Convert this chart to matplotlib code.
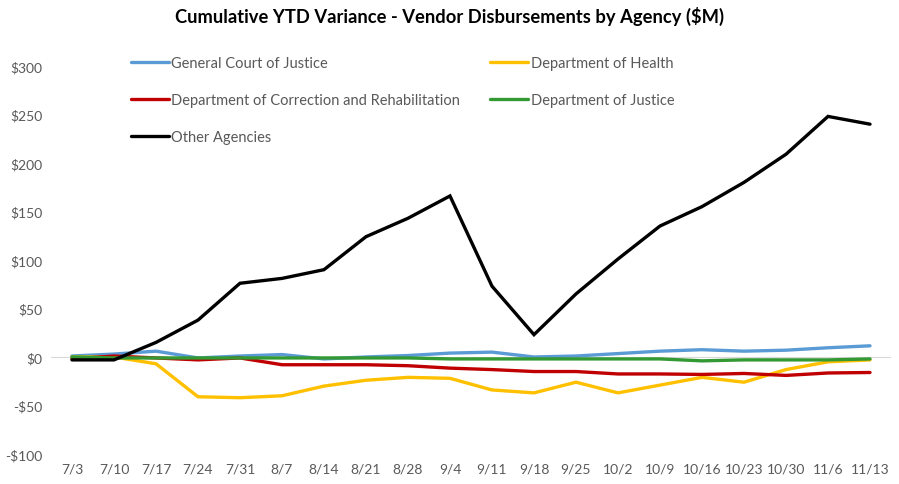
import matplotlib.pyplot as plt
import numpy as np

# week-ending dates (category axis)
weeks = ['7/3', '7/10', '7/17', '7/24', '7/31', '8/7', '8/14', '8/21', '8/28', '9/4',
         '9/11', '9/18', '9/25', '10/2', '10/9', '10/16', '10/23', '10/30', '11/6', '11/13']

# cumulative YTD variance, $M
general_court = [1, 3, 6, -1, 1, 2.5, -2, 0, 1.5, 4, 5, 0, 1, 3.5, 6, 7.5, 6, 7, 9.5, 11.5]
health = [0, 0, -7, -41, -42, -40, -30, -24, -21, -22, -34, -37, -26, -37, -29, -21, -26, -13, -5, -3]
correction = [-2, 1, -1, -3, -1, -8, -8, -8, -9, -11.5, -13, -15, -15, -17.5, -17.5, -18, -17, -19, -16.5, -16]
justice = [0, -1, -1, -1, -1, -1, -1, -1, -1, -2, -2, -2, -2, -2, -2, -4, -3, -3, -3, -2]
other = [-3, -3, 15, 38, 76, 81, 90, 124, 143, 166, 73, 23, 65, 101, 135, 155, 180, 209, 248, 240]

series = [
    ('General Court of Justice', general_court, '#5B9BD5'),
    ('Department of Health', health, '#FFC000'),
    ('Department of Correction and Rehabilitation', correction, '#C00000'),
    ('Department of Justice', justice, '#339933'),
    ('Other Agencies', other, '#000000'),
]

plt.rcParams['font.family'] = ['Lato', 'DejaVu Sans']

fig = plt.figure(figsize=(8.99, 4.85), dpi=100)
ax = fig.add_axes([0.0567, 0.0619, 0.9344, 0.80])

x = np.arange(len(weeks))
ax.axhline(0, color='#D9D9D9', lw=0.8, zorder=1)
lines = {}
for name, vals, col in series:
    ln, = ax.plot(x, vals, color=col, lw=2.4, label=name, zorder=2,
                  solid_joinstyle='miter', solid_capstyle='round')
    lines[name] = ln

ax.set_xlim(-0.5, len(weeks) - 0.5)
ax.set_ylim(-100, 300)
ax.set_xticks(x)
ax.set_xticklabels(weeks)
ax.set_yticks(np.arange(-100, 301, 50))
ax.set_yticklabels([f'-${abs(v)}' if v < 0 else f'${v}' for v in range(-100, 301, 50)])
ax.tick_params(length=0, labelsize=10, colors='#595959', pad=6)
for s in ax.spines.values():
    s.set_visible(False)

fig.text(0.5, 0.965, 'Cumulative YTD Variance - Vendor Disbursements by Agency ($M)',
         ha='center', va='center', fontsize=13.2, fontweight='bold', color='#000000')

order = ['General Court of Justice', 'Department of Correction and Rehabilitation', 'Other Agencies',
         'Department of Health', 'Department of Justice']
leg = fig.legend([lines[n] for n in order], order, ncol=2, frameon=False,
                 loc='upper left', bbox_to_anchor=(0.131, 0.91),
                 fontsize=10.5, handlelength=2.6, handletextpad=0.15,
                 columnspacing=2.1, labelspacing=1.6)
for t in leg.get_texts():
    t.set_color('#595959')

fig.savefig('out.png', dpi=100)
